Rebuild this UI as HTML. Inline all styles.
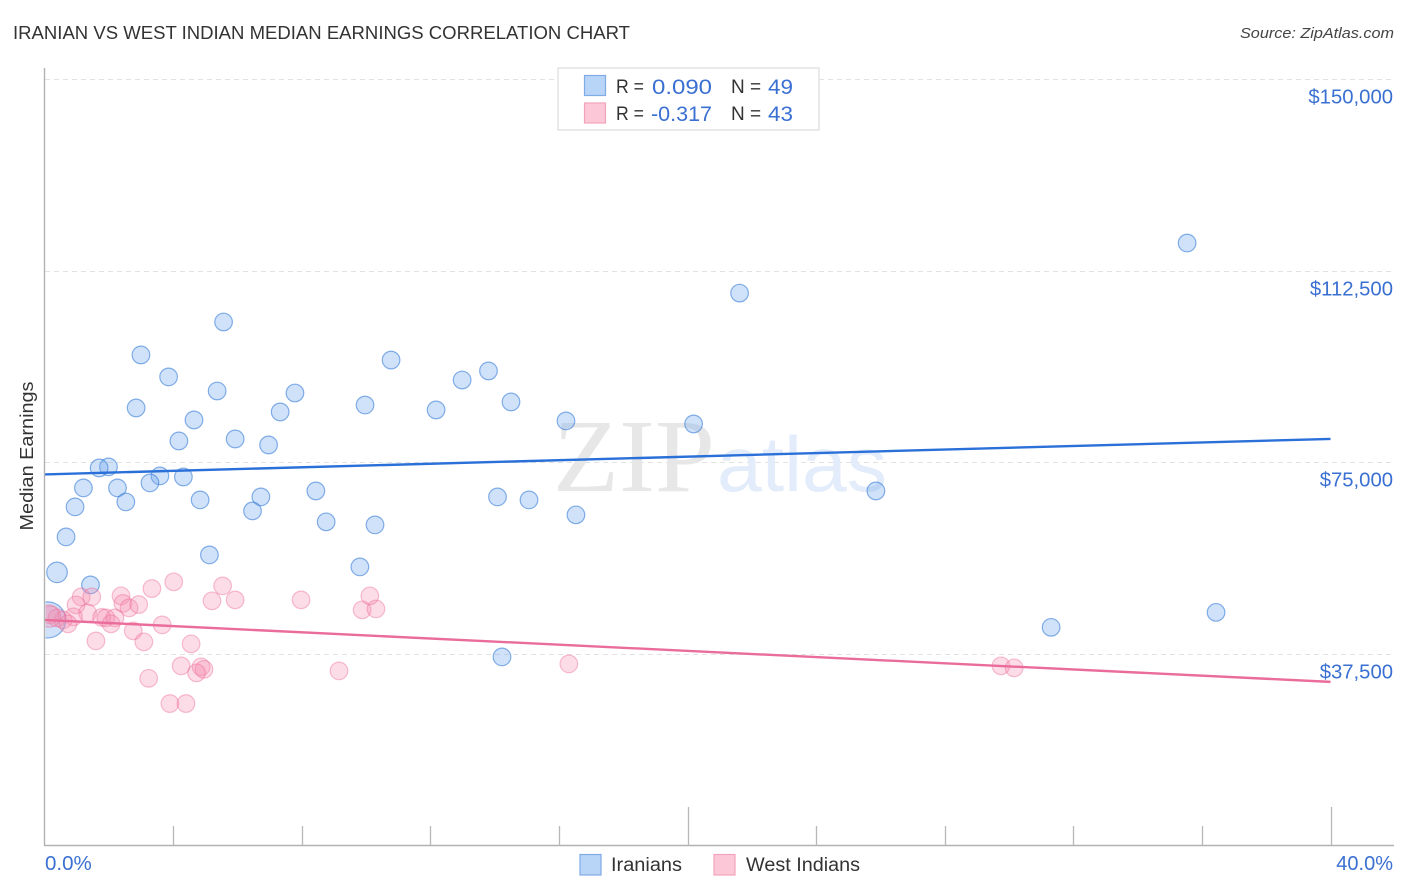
<!DOCTYPE html>
<html lang="en">
<head>
<meta charset="utf-8">
<title>Iranian vs West Indian Median Earnings Correlation Chart</title>
<style>
html,body{margin:0;padding:0;background:#fff;}
svg{display:block;font-family:"Liberation Sans",sans-serif;}
</style>
</head>
<body>
<svg id="chart" width="1406" height="892" viewBox="0 0 1406 892" xmlns="http://www.w3.org/2000/svg">
  <defs>
    <clipPath id="plot-clip"><rect x="45.5" y="60" width="1350" height="785"/></clipPath>
  </defs>
  <text x="13" y="39" font-size="18.5" fill="#333" textLength="617" lengthAdjust="spacingAndGlyphs">IRANIAN VS WEST INDIAN MEDIAN EARNINGS CORRELATION CHART</text>
  <text x="1394" y="38" font-size="15" font-style="italic" fill="#444" text-anchor="end" textLength="154" lengthAdjust="spacingAndGlyphs">Source: ZipAtlas.com</text>

  <g id="grid"></g>

  <g>
    <text x="553" y="491" font-family="'Liberation Serif',serif" font-size="104" fill="#e7e7e7" textLength="162" lengthAdjust="spacingAndGlyphs">ZIP</text>
    <text x="717" y="491" font-family="'Liberation Sans',sans-serif" font-size="78" fill="#e3ecfa" textLength="170" lengthAdjust="spacingAndGlyphs">atlas</text>
  </g>

  <g id="points" clip-path="url(#plot-clip)"></g>
  <g id="trends"></g>
  <g id="axes"></g>

  <text transform="translate(33,456) rotate(-90)" font-size="18" fill="#333" text-anchor="middle" textLength="149" lengthAdjust="spacingAndGlyphs">Median Earnings</text>

  <g font-size="20">
    <rect x="558" y="68" width="261" height="62" fill="#fff" stroke="#dcdcdc" stroke-width="1.2"/>
    <rect x="584.5" y="75.5" width="21" height="20" fill="#b8d4f7" stroke="#7fabe6" stroke-width="1.2"/>
    <rect x="584.5" y="103" width="21" height="20" fill="#fcc8d8" stroke="#f2a3bc" stroke-width="1.2"/>
    <text x="616" y="93" fill="#333" font-size="19" textLength="28" lengthAdjust="spacingAndGlyphs">R =</text>
    <text x="652" y="94" fill="#3a70d2" font-size="21" textLength="60" lengthAdjust="spacingAndGlyphs">0.090</text>
    <text x="731" y="93" fill="#333" font-size="19">N =</text>
    <text x="768" y="94" fill="#3a70d2" font-size="21" textLength="25" lengthAdjust="spacingAndGlyphs">49</text>
    <text x="616" y="120" fill="#333" font-size="19" textLength="28" lengthAdjust="spacingAndGlyphs">R =</text>
    <text x="651" y="121" fill="#3a70d2" font-size="21" textLength="61" lengthAdjust="spacingAndGlyphs">-0.317</text>
    <text x="731" y="120" fill="#333" font-size="19">N =</text>
    <text x="768" y="121" fill="#3a70d2" font-size="21" textLength="25" lengthAdjust="spacingAndGlyphs">43</text>
  </g>

  <g>
    <rect x="580" y="854.5" width="21" height="20.5" fill="#b8d4f7" stroke="#7fabe6" stroke-width="1.2"/>
    <text x="611" y="871" font-size="19" fill="#333" textLength="71" lengthAdjust="spacingAndGlyphs">Iranians</text>
    <rect x="714" y="854.5" width="21" height="20.5" fill="#fcc8d8" stroke="#f2a3bc" stroke-width="1.2"/>
    <text x="746" y="871" font-size="19" fill="#333" textLength="114" lengthAdjust="spacingAndGlyphs">West Indians</text>
  </g>
</svg>
<script>
const yTicks = [37500, 75000, 112500, 150000];
const yTickLabels = ["$37,500", "$75,000", "$112,500", "$150,000"];
const xTicks = [0, 4, 8, 12, 16, 20, 24, 28, 32, 36, 40];
const xMajorTicks = [20, 40];
const xEndLabels = ["0.0%", "40.0%"];

const iranianX = [35.54,21.62,5.57,3.00,10.78,3.86,13.81,12.99,5.37,7.79,2.85,9.97,14.51,12.18,7.33,4.65,16.22,20.19,4.18,5.93,6.97,1.99,1.70,3.59,4.32,3.28,1.21,2.27,8.44,25.86,6.73,4.84,14.09,15.07,2.53,0.95,6.47,16.53,8.76,10.28,0.67,5.13,9.81,0.39,1.43,36.44,31.31,14.23,0.1];
const iranianY = [117900,108100,102450,96000,95000,91700,92870,91100,88950,88550,85630,86200,86800,85240,84850,83280,83090,82500,79170,79560,78390,74090,73890,72330,72130,70960,69980,69980,69390,69390,68220,67630,68220,67630,67240,66260,65480,64700,63330,62740,60390,56870,54520,53450,51000,45620,42690,36910,44150];
const iranianWeight = {43:1.36, 48:4.2};

const westIndianX = [1.14,1.47,0.98,2.38,3.34,4.02,5.54,5.21,5.93,7.98,2.44,2.63,2.93,1.34,0.90,0.58,1.78,1.91,2.19,2.07,3.66,2.76,1.60,3.09,4.56,4.25,4.87,4.96,4.73,3.24,3.90,4.40,9.16,9.88,10.31,10.12,16.31,29.75,30.16,0.17,0.39,0.73,0.15];
const westIndianY = [48650,48650,47090,48850,50280,51590,50800,47870,48065,48065,47380,46500,47150,45520,44740,44150,44640,44540,44540,43370,43170,42000,40040,39850,39460,35150,34960,34470,33780,32710,27780,27780,34170,46110,46300,48850,35540,35150,34760,45130,44540,43370,44900];
const westIndianWeight = {42:1.6};

const iranianTrend = [72620, 79565];
const westIndianTrend = [44150, 32020];
const trendRange = [0, 40];

const NS = "http://www.w3.org/2000/svg";
const X0 = 44.5, X40 = 1330.5, Y0 = 845.5, Y150 = 79;
function xScale(v){ return X0 + (v / 40) * (X40 - X0); }
function yScale(v){ return Y0 - (v / 150000) * (Y0 - Y150); }
function mk(parent, tag, attrs){
  const el = document.createElementNS(NS, tag);
  for (const k in attrs) el.setAttribute(k, attrs[k]);
  parent.appendChild(el);
  return el;
}
const gridG = document.getElementById("grid");
const axesG = document.getElementById("axes");
const pointsG = document.getElementById("points");
const trendsG = document.getElementById("trends");

yTicks.forEach(function(t, i){
  const y = Math.round(yScale(t)) + 0.5;
  const line = mk(gridG, "line", {x1:45, x2:1394, y1:y, y2:y, stroke:"#e2e2e2", "stroke-width":1, "stroke-dasharray":"5 4"});
  
  
  const label = mk(axesG, "text", {x:1393, y:y + 24, "text-anchor":"end", "font-size":20.3, fill:"#3a70d2"});
  label.textContent = yTickLabels[i];
  
  
});

const yAxis = mk(axesG, "line", {x1:44.5, x2:44.5, y1:68, y2:846, stroke:"#b2b2b2", "stroke-width":1.4});


const xAxis = mk(axesG, "line", {x1:44, x2:1394, y1:845.5, y2:845.5, stroke:"#b2b2b2", "stroke-width":1.4});



xTicks.forEach(function(t){
  if (t === 0) return;
  const x = Math.round(xScale(t)) + 0.5;
  const top = xMajorTicks.indexOf(t) >= 0 ? 807 : 826;
  const tick = mk(axesG, "line", {x1:x, x2:x, y1:top, y2:845.5, stroke:"#b8b8b8", "stroke-width":1.3});
  
  
});

const xLabelStart = mk(axesG, "text", {x:45, y:870, "font-size":20.5, fill:"#3a70d2"});
xLabelStart.textContent = xEndLabels[0];


const xLabelEnd = mk(axesG, "text", {x:1393, y:870, "font-size":20, fill:"#3a70d2", "text-anchor":"end"});
xLabelEnd.textContent = xEndLabels[1];



iranianX.forEach(function(v, i){
  const c = mk(pointsG, "circle", {cx:xScale(v), cy:yScale(iranianY[i]), r:8.8*Math.sqrt(iranianWeight[i]||1), fill:"rgba(110,165,235,.32)", stroke:"rgba(50,120,215,.58)", "stroke-width":1.2});
  
  
});
westIndianX.forEach(function(v, i){
  const c = mk(pointsG, "circle", {cx:xScale(v), cy:yScale(westIndianY[i]), r:8.8*Math.sqrt(westIndianWeight[i]||1), fill:"rgba(245,140,175,.3)", stroke:"rgba(235,105,150,.42)", "stroke-width":1.2});
  
  
});

const blueLine = mk(trendsG, "line", {x1:xScale(trendRange[0]), x2:xScale(trendRange[1]), y1:yScale(iranianTrend[0]), y2:yScale(iranianTrend[1]), stroke:"#2a70d8", "stroke-width":2.4, "stroke-linecap":"butt"});


const pinkLine = mk(trendsG, "line", {x1:xScale(trendRange[0]), x2:xScale(trendRange[1]), y1:yScale(westIndianTrend[0]), y2:yScale(westIndianTrend[1]), stroke:"#ea6c9a", "stroke-width":2.4, "stroke-linecap":"butt"});


</script>
</body>
</html>
